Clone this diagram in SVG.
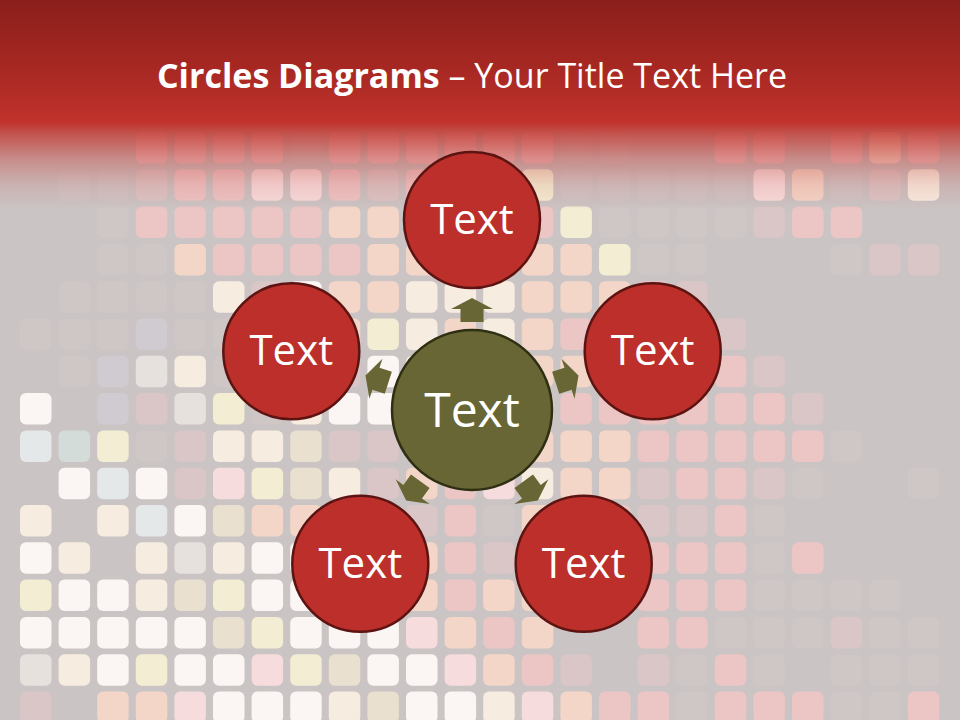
<svg xmlns="http://www.w3.org/2000/svg" width="960" height="720" viewBox="0 0 960 720">
<style>
#tiles rect{width:31.5px;height:31.5px;rx:6px;ry:6px}
.f{fill:#cfc6c6}.l{fill:#dac6c6}.p{fill:#ecc5c5}.P{fill:#f4c0c2}.q{fill:#f6dcdc}.o{fill:#f3d6c8}.c{fill:#f7ece0}.y{fill:#f3edd3}.w{fill:#fbf5f3}.b{fill:#e9e0d0}.u{fill:#e4e8e8}.t{fill:#d4dcd9}.v{fill:#d0cad1}.g{fill:#e6e1dc}
.red{fill:#bc2f2a;stroke:#5c1412;stroke-width:2.5}
.ctr{fill:#676634;stroke:#2f2f14;stroke-width:2.5}
.lbl{font-family:"Open Sans","DejaVu Sans",sans-serif;fill:#ffffff;text-anchor:middle}
.arrow{fill:#676634}
</style>
<defs>
<linearGradient id="hdr" x1="0" y1="0" x2="0" y2="1">
<stop offset="0" stop-color="#8a1e1b"/>
<stop offset="0.3" stop-color="#a52722"/>
<stop offset="0.58" stop-color="#c0322b"/>
<stop offset="0.63" stop-color="#c0322b" stop-opacity="0.8"/>
<stop offset="0.75" stop-color="#c0322b" stop-opacity="0.4"/>
<stop offset="0.88" stop-color="#c0322b" stop-opacity="0.12"/>
<stop offset="1" stop-color="#c0322b" stop-opacity="0"/>
</linearGradient>
<path id="arr" d="M0,-112 L21,-101 L11.5,-101 L11.5,-88 L-11.5,-88 L-11.5,-101 L-21,-101 Z"/>
</defs>
<rect width="960" height="720" fill="#cbc4c4"/>
<g id="tiles">
<g transform="translate(0,132)"><rect x="135.8" class="p"/><rect x="174.4" class="p"/><rect x="213" class="p"/><rect x="251.6" class="p"/><rect x="290.2" class="f"/><rect x="328.8" class="p"/><rect x="367.4" class="p"/><rect x="406" class="p"/><rect x="444.6" class="p"/><rect x="483.2" class="p"/><rect x="521.8" class="p"/><rect x="560.4" class="f"/><rect x="599" class="f"/><rect x="714.8" class="p"/><rect x="753.4" class="p"/><rect x="830.6" class="p"/><rect x="869.2" class="o"/><rect x="907.8" class="p"/></g>
<g transform="translate(0,169.3)"><rect x="58.6" class="f"/><rect x="97.2" class="f"/><rect x="135.8" class="l"/><rect x="174.4" class="p"/><rect x="213" class="p"/><rect x="251.6" class="q"/><rect x="290.2" class="q"/><rect x="328.8" class="p"/><rect x="367.4" class="l"/><rect x="406" class="p"/><rect x="444.6" class="p"/><rect x="483.2" class="p"/><rect x="521.8" class="y"/><rect x="560.4" class="f"/><rect x="599" class="f"/><rect x="637.6" class="f"/><rect x="676.2" class="f"/><rect x="714.8" class="f"/><rect x="753.4" class="q"/><rect x="792" class="o"/><rect x="830.6" class="f"/><rect x="869.2" class="l"/><rect x="907.8" class="c"/></g>
<g transform="translate(0,206.6)"><rect x="97.2" class="f"/><rect x="135.8" class="p"/><rect x="174.4" class="p"/><rect x="213" class="p"/><rect x="251.6" class="p"/><rect x="290.2" class="p"/><rect x="328.8" class="o"/><rect x="367.4" class="o"/><rect x="406" class="p"/><rect x="444.6" class="o"/><rect x="483.2" class="p"/><rect x="521.8" class="p"/><rect x="560.4" class="y"/><rect x="599" class="f"/><rect x="637.6" class="f"/><rect x="676.2" class="f"/><rect x="714.8" class="f"/><rect x="753.4" class="l"/><rect x="792" class="p"/><rect x="830.6" class="p"/></g>
<g transform="translate(0,243.9)"><rect x="97.2" class="f"/><rect x="135.8" class="f"/><rect x="174.4" class="o"/><rect x="213" class="p"/><rect x="251.6" class="p"/><rect x="290.2" class="p"/><rect x="328.8" class="p"/><rect x="367.4" class="o"/><rect x="406" class="o"/><rect x="444.6" class="c"/><rect x="483.2" class="o"/><rect x="521.8" class="o"/><rect x="560.4" class="o"/><rect x="599" class="y"/><rect x="637.6" class="f"/><rect x="676.2" class="f"/><rect x="830.6" class="f"/><rect x="869.2" class="l"/><rect x="907.8" class="l"/></g>
<g transform="translate(0,281.2)"><rect x="58.6" class="f"/><rect x="97.2" class="f"/><rect x="135.8" class="f"/><rect x="174.4" class="f"/><rect x="213" class="c"/><rect x="251.6" class="l"/><rect x="290.2" class="w"/><rect x="328.8" class="o"/><rect x="367.4" class="o"/><rect x="406" class="c"/><rect x="444.6" class="c"/><rect x="483.2" class="c"/><rect x="521.8" class="o"/><rect x="560.4" class="o"/><rect x="599" class="o"/><rect x="637.6" class="p"/><rect x="676.2" class="l"/></g>
<g transform="translate(0,318.5)"><rect x="20" class="f"/><rect x="58.6" class="f"/><rect x="97.2" class="f"/><rect x="135.8" class="v"/><rect x="174.4" class="f"/><rect x="213" class="f"/><rect x="251.6" class="f"/><rect x="290.2" class="l"/><rect x="328.8" class="o"/><rect x="367.4" class="y"/><rect x="406" class="c"/><rect x="444.6" class="o"/><rect x="483.2" class="c"/><rect x="521.8" class="o"/><rect x="560.4" class="p"/><rect x="599" class="o"/><rect x="637.6" class="p"/><rect x="676.2" class="l"/><rect x="714.8" class="l"/></g>
<g transform="translate(0,355.8)"><rect x="58.6" class="f"/><rect x="97.2" class="v"/><rect x="135.8" class="g"/><rect x="174.4" class="c"/><rect x="213" class="f"/><rect x="251.6" class="f"/><rect x="290.2" class="l"/><rect x="328.8" class="l"/><rect x="367.4" class="w"/><rect x="406" class="c"/><rect x="444.6" class="o"/><rect x="483.2" class="o"/><rect x="521.8" class="o"/><rect x="560.4" class="o"/><rect x="599" class="o"/><rect x="637.6" class="p"/><rect x="676.2" class="p"/><rect x="714.8" class="p"/><rect x="753.4" class="l"/></g>
<g transform="translate(0,393.1)"><rect x="20" class="w"/><rect x="97.2" class="v"/><rect x="135.8" class="l"/><rect x="174.4" class="g"/><rect x="213" class="y"/><rect x="251.6" class="f"/><rect x="290.2" class="c"/><rect x="328.8" class="w"/><rect x="367.4" class="w"/><rect x="406" class="c"/><rect x="444.6" class="o"/><rect x="483.2" class="o"/><rect x="521.8" class="o"/><rect x="560.4" class="p"/><rect x="599" class="p"/><rect x="637.6" class="p"/><rect x="676.2" class="p"/><rect x="714.8" class="p"/><rect x="753.4" class="p"/><rect x="792" class="l"/></g>
<g transform="translate(0,430.4)"><rect x="20" class="u"/><rect x="58.6" class="t"/><rect x="97.2" class="y"/><rect x="135.8" class="f"/><rect x="174.4" class="l"/><rect x="213" class="c"/><rect x="251.6" class="c"/><rect x="290.2" class="b"/><rect x="328.8" class="l"/><rect x="367.4" class="l"/><rect x="406" class="o"/><rect x="444.6" class="o"/><rect x="483.2" class="o"/><rect x="521.8" class="o"/><rect x="560.4" class="o"/><rect x="599" class="o"/><rect x="637.6" class="p"/><rect x="676.2" class="p"/><rect x="714.8" class="p"/><rect x="753.4" class="p"/><rect x="792" class="p"/><rect x="830.6" class="f"/></g>
<g transform="translate(0,467.7)"><rect x="58.6" class="w"/><rect x="97.2" class="u"/><rect x="135.8" class="w"/><rect x="174.4" class="l"/><rect x="213" class="q"/><rect x="251.6" class="y"/><rect x="290.2" class="b"/><rect x="328.8" class="c"/><rect x="367.4" class="l"/><rect x="406" class="o"/><rect x="444.6" class="p"/><rect x="483.2" class="q"/><rect x="521.8" class="c"/><rect x="560.4" class="o"/><rect x="599" class="o"/><rect x="637.6" class="l"/><rect x="676.2" class="p"/><rect x="714.8" class="p"/><rect x="753.4" class="l"/><rect x="792" class="f"/><rect x="907.8" class="f"/></g>
<g transform="translate(0,505)"><rect x="20" class="c"/><rect x="97.2" class="c"/><rect x="135.8" class="u"/><rect x="174.4" class="w"/><rect x="213" class="b"/><rect x="251.6" class="o"/><rect x="290.2" class="o"/><rect x="328.8" class="o"/><rect x="367.4" class="o"/><rect x="406" class="l"/><rect x="444.6" class="p"/><rect x="483.2" class="f"/><rect x="521.8" class="o"/><rect x="560.4" class="o"/><rect x="599" class="p"/><rect x="637.6" class="l"/><rect x="676.2" class="l"/><rect x="714.8" class="p"/><rect x="753.4" class="f"/></g>
<g transform="translate(0,542.3)"><rect x="20" class="w"/><rect x="58.6" class="c"/><rect x="135.8" class="c"/><rect x="174.4" class="g"/><rect x="213" class="c"/><rect x="251.6" class="w"/><rect x="290.2" class="w"/><rect x="328.8" class="w"/><rect x="367.4" class="w"/><rect x="406" class="o"/><rect x="444.6" class="p"/><rect x="483.2" class="l"/><rect x="521.8" class="o"/><rect x="560.4" class="o"/><rect x="599" class="P"/><rect x="637.6" class="p"/><rect x="676.2" class="p"/><rect x="714.8" class="p"/><rect x="753.4" class="f"/><rect x="792" class="p"/></g>
<g transform="translate(0,579.6)"><rect x="20" class="y"/><rect x="58.6" class="w"/><rect x="97.2" class="w"/><rect x="135.8" class="c"/><rect x="174.4" class="b"/><rect x="213" class="y"/><rect x="251.6" class="w"/><rect x="290.2" class="w"/><rect x="328.8" class="w"/><rect x="367.4" class="w"/><rect x="406" class="o"/><rect x="444.6" class="p"/><rect x="483.2" class="o"/><rect x="521.8" class="o"/><rect x="560.4" class="o"/><rect x="599" class="p"/><rect x="637.6" class="p"/><rect x="676.2" class="p"/><rect x="714.8" class="p"/><rect x="753.4" class="f"/><rect x="792" class="f"/><rect x="830.6" class="f"/><rect x="869.2" class="f"/></g>
<g transform="translate(0,616.9)"><rect x="20" class="w"/><rect x="58.6" class="w"/><rect x="97.2" class="w"/><rect x="135.8" class="w"/><rect x="174.4" class="w"/><rect x="213" class="b"/><rect x="251.6" class="y"/><rect x="290.2" class="w"/><rect x="328.8" class="w"/><rect x="367.4" class="w"/><rect x="406" class="q"/><rect x="444.6" class="o"/><rect x="483.2" class="p"/><rect x="521.8" class="o"/><rect x="637.6" class="p"/><rect x="676.2" class="p"/><rect x="714.8" class="f"/><rect x="753.4" class="f"/><rect x="792" class="f"/><rect x="830.6" class="l"/><rect x="869.2" class="f"/><rect x="907.8" class="f"/></g>
<g transform="translate(0,654.2)"><rect x="20" class="g"/><rect x="58.6" class="c"/><rect x="97.2" class="w"/><rect x="135.8" class="y"/><rect x="174.4" class="w"/><rect x="213" class="w"/><rect x="251.6" class="q"/><rect x="290.2" class="y"/><rect x="328.8" class="b"/><rect x="367.4" class="w"/><rect x="406" class="w"/><rect x="444.6" class="q"/><rect x="483.2" class="o"/><rect x="521.8" class="p"/><rect x="560.4" class="l"/><rect x="637.6" class="l"/><rect x="676.2" class="f"/><rect x="714.8" class="p"/><rect x="753.4" class="f"/><rect x="830.6" class="f"/><rect x="869.2" class="f"/><rect x="907.8" class="f"/></g>
<g transform="translate(0,691.5)"><rect x="20" class="l"/><rect x="97.2" class="o"/><rect x="135.8" class="o"/><rect x="174.4" class="q"/><rect x="213" class="w"/><rect x="251.6" class="w"/><rect x="290.2" class="w"/><rect x="328.8" class="c"/><rect x="367.4" class="b"/><rect x="406" class="w"/><rect x="444.6" class="w"/><rect x="483.2" class="c"/><rect x="521.8" class="q"/><rect x="560.4" class="o"/><rect x="599" class="p"/><rect x="637.6" class="p"/><rect x="676.2" class="f"/><rect x="714.8" class="p"/><rect x="753.4" class="p"/><rect x="792" class="p"/><rect x="830.6" class="f"/><rect x="869.2" class="f"/><rect x="907.8" class="p"/></g>
</g>
<rect id="header" width="960" height="210" fill="url(#hdr)"/>
<text id="title" x="472" y="88" class="lbl" font-size="34"><tspan font-weight="bold">Circles Diagrams</tspan> – Your Title Text Here</text>
<g id="connectors" class="arrow">
<use href="#arr" transform="translate(472,410)"/>
<use href="#arr" transform="translate(472,410) rotate(72)"/>
<use href="#arr" transform="translate(472,410) rotate(144)"/>
<use href="#arr" transform="translate(472,410) rotate(216)"/>
<use href="#arr" transform="translate(472,410) rotate(288)"/>
</g>
<g id="node-top"><circle cx="472" cy="220" r="68" class="red"/><text x="472" y="234" class="lbl" font-size="42">Text</text></g>
<g id="node-right"><circle cx="652.7" cy="351.3" r="68" class="red"/><text x="652.7" y="365.3" class="lbl" font-size="42">Text</text></g>
<g id="node-bottom-right"><circle cx="583.7" cy="563.7" r="68" class="red"/><text x="583.7" y="577.7" class="lbl" font-size="42">Text</text></g>
<g id="node-bottom-left"><circle cx="360.3" cy="563.7" r="68" class="red"/><text x="360.3" y="577.7" class="lbl" font-size="42">Text</text></g>
<g id="node-left"><circle cx="291.3" cy="351.3" r="68" class="red"/><text x="291.3" y="365.3" class="lbl" font-size="42">Text</text></g>
<g id="node-center"><circle cx="472" cy="410" r="80" class="ctr"/><text x="472" y="427" class="lbl" font-size="48">Text</text></g>
</svg>
